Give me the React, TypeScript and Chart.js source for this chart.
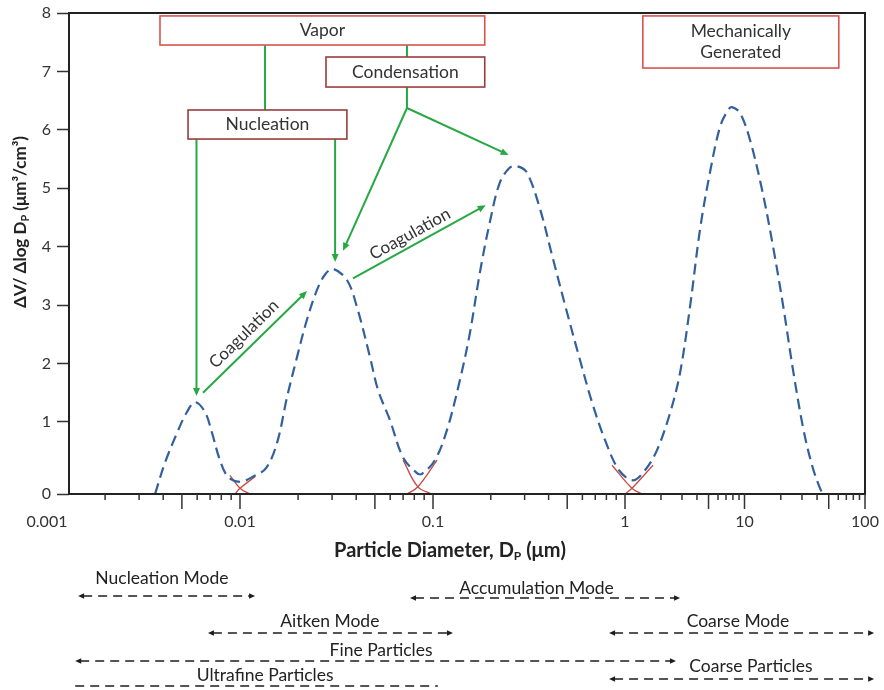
import React, { useEffect, useRef } from 'react';
import { Chart, registerables, LogarithmicScale, LinearScale } from 'chart.js';

// ---------------- data ----------------
const diameters = [0.00363, 0.00408, 0.00472, 0.00531, 0.00585, 0.00659, 0.00716, 0.00787, 0.00866, 0.0100, 0.01167, 0.01364, 0.01556, 0.01754, 0.01974, 0.02222, 0.02506, 0.02754, 0.03033, 0.03582, 0.04035, 0.04716, 0.05188, 0.05984, 0.06993, 0.08262, 0.0877, 0.1023, 0.1183, 0.1381, 0.1556, 0.1753, 0.1974, 0.2224, 0.2506, 0.2723, 0.3068, 0.3584, 0.4188, 0.4946, 0.5776, 0.6745, 0.7973, 0.9311, 1.166, 1.470, 1.853, 2.380, 2.887, 3.50, 4.24, 5.14, 6.24, 7.28, 7.86, 9.17, 11.1, 14.0, 17.3, 21.0, 25.5, 30.9, 36.7, 42.8, 45.4];
const volumes = [0, 0.43, 0.85, 1.17, 1.34, 1.17, 0.85, 0.47, 0.24, 0.17, 0.24, 0.36, 0.71, 1.43, 2.11, 2.75, 3.26, 3.52, 3.62, 3.43, 2.97, 2.11, 1.55, 1.03, 0.51, 0.29, 0.28, 0.47, 0.89, 1.72, 2.52, 3.55, 4.41, 5.09, 5.35, 5.38, 5.28, 4.68, 3.83, 2.92, 2.11, 1.33, 0.71, 0.33, 0.19, 0.33, 0.61, 1.15, 1.84, 2.97, 4.29, 5.27, 6.05, 6.34, 6.39, 6.29, 5.83, 4.97, 3.99, 2.97, 1.84, 0.89, 0.375, 0.06, 0];

// red overlapping mode tails at the three minima
const tailDiameters = [
  [0.00887, 0.0100, 0.01127],
  [0.00942, 0.0100, 0.01197],
  [0.0700, 0.0835, 0.0989],
  [0.0733, 0.0835, 0.1050],
  [0.856, 1.144, 1.388],
  [1.0, 1.144, 1.715],
];
const tailVolumes = [
  [0.26, 0.08, 0],
  [0, 0.08, 0.24],
  [0.47, 0.10, 0],
  [0, 0.10, 0.47],
  [0.40, 0.08, 0],
  [0, 0.08, 0.40],
];

const xTickValues = [0.001, 0.01, 0.1, 1, 10, 100];
const xTickLabels = ['0.001', '0.01', '0.1', '1', '10', '100'];
const yTickValues = [0, 1, 2, 3, 4, 5, 6, 7, 8];

// annotation boxes (diameter range, value range)
const boxTexts = [['Vapor'], ['Condensation'], ['Nucleation'], ['Mechanically', 'Generated']];
const boxD1 = [0.00385, 0.0279, 0.00538, 1.41];
const boxD2 = [0.186, 0.186, 0.0358, 60.6];
const boxVTop = [7.95, 7.247, 6.34, 7.95];
const boxVBottom = [7.452, 6.733, 5.843, 7.058];

// green connectors [d, v] from -> to, arrowhead flag
const linkFrom = [[0.01348, 7.452], [0.0733, 7.452], [0.0733, 6.733], [0.0733, 6.374], [0.0733, 6.374], [0.00595, 5.843], [0.0311, 5.843], [0.00643, 1.50], [0.0385, 3.46]];
const linkTo = [[0.01348, 6.34], [0.0733, 7.247], [0.0733, 6.374], [0.0342, 3.93], [0.2476, 5.57], [0.00595, 1.445], [0.0311, 3.74], [0.02224, 3.24], [0.1882, 4.71]];
const linkArrow = [false, false, false, true, true, true, true, true, true];

const coagLabels = ['Coagulation', 'Coagulation'];
const coagAt = [[0.01049, 2.506], [0.0760, 4.218]];
const coagLink = [7, 8];

// size-range legend below the axis
const rangeLabels = ['Nucleation Mode', 'Accumulation Mode', 'Aitken Mode', 'Coarse Mode', 'Fine Particles', 'Coarse Particles', 'Ultrafine Particles'];
const rangeStart = [0.00145, 0.0760, 0.00682, 0.826, 0.0014, 0.826, 0.0014];
const rangeEnd = [0.01197, 2.89, 0.127, 119, 2.67, 119, 0.106];
const rangeLabelAt = [0.00394, 0.346, 0.0292, 8.82, 0.0538, 11.3, 0.0135];
const rangeArrows = [true, true, true, true, true, true, false];

// ---------------- layout / style ----------------
const RANGE_LINE_Y = [596, 598, 633, 633, 661, 679, 686];
const RANGE_TEXT_Y = [578, 588, 621, 621, 650, 666, 675];
const FONT = 'Lato, "Open Sans", sans-serif';
const BLUE = '#31609c';
const RED = '#c84a45';
const GREEN = '#27a844';
const BOX_LIGHT = '#d9534f';
const BOX_DARK = '#9c3b3b';

// axis warping (the reference axes are not evenly spaced)
const X_BREAK_LOG = [-3, -2, -1, 0, 1, 2];
const X_BREAK_FRAC = [-0.02764, 0.21482, 0.45729, 0.69849, 0.84862, 1.0];
const Y_BREAK_VAL = [0, 1, 8];
const Y_BREAK_FRAC = [0, 0.14969, 1];

function piecewise(t: number, xs: number[], ys: number[]) {
  const n = xs.length;
  let i = 0;
  if (t <= xs[0]) i = 0;
  else if (t >= xs[n - 1]) i = n - 2;
  else while (t > xs[i + 1]) i++;
  return ys[i] + ((t - xs[i]) * (ys[i + 1] - ys[i])) / (xs[i + 1] - xs[i]);
}

class WarpedLogScale extends LogarithmicScale {
  static id = 'warpedLog';
  getPixelForValue(value: any) {
    let v = value;
    if (v === undefined || v === null || !(v > 0)) v = (this as any).min;
    return (this as any).getPixelForDecimal(piecewise(Math.log10(v), X_BREAK_LOG, X_BREAK_FRAC));
  }
  getValueForPixel(pixel: number) {
    const dec = (this as any).getDecimalForPixel(pixel);
    return Math.pow(10, piecewise(dec, X_BREAK_FRAC, X_BREAK_LOG));
  }
}

class WarpedLinearScale extends LinearScale {
  static id = 'warpedLinear';
  getPixelForValue(value: any) {
    return (this as any).getPixelForDecimal(piecewise(value, Y_BREAK_VAL, Y_BREAK_FRAC));
  }
  getValueForPixel(pixel: number) {
    const dec = (this as any).getDecimalForPixel(pixel);
    return piecewise(dec, Y_BREAK_FRAC, Y_BREAK_VAL);
  }
}

Chart.register(...registerables, WarpedLogScale as any, WarpedLinearScale as any);

type Part = { t: string; sub?: boolean };

function drawRich(ctx: CanvasRenderingContext2D, parts: Part[], x: number, y: number, size: number, weight: string) {
  const subSize = Math.round(size * 0.62);
  let total = 0;
  const widths = parts.map((p) => {
    ctx.font = `${weight} ${p.sub ? subSize : size}px ${FONT}`;
    const w = ctx.measureText(p.t).width;
    total += w;
    return w;
  });
  let cx = x - total / 2;
  ctx.textAlign = 'left';
  ctx.textBaseline = 'middle';
  parts.forEach((p, i) => {
    ctx.font = `${weight} ${p.sub ? subSize : size}px ${FONT}`;
    ctx.fillText(p.t, cx, p.sub ? y + size * 0.28 : y);
    cx += widths[i];
  });
}

function arrowHead(ctx: CanvasRenderingContext2D, x1: number, y1: number, x2: number, y2: number, len: number, half: number) {
  const ang = Math.atan2(y2 - y1, x2 - x1);
  ctx.beginPath();
  ctx.moveTo(x2, y2);
  ctx.lineTo(x2 - len * Math.cos(ang) + half * Math.sin(ang), y2 - len * Math.sin(ang) - half * Math.cos(ang));
  ctx.lineTo(x2 - len * Math.cos(ang) - half * Math.sin(ang), y2 - len * Math.sin(ang) + half * Math.cos(ang));
  ctx.closePath();
  ctx.fill();
}

const annotPlugin = {
  id: 'annotations',
  afterDraw(chart: any) {
    const { ctx, chartArea: a } = chart;
    const xs = chart.scales.x;
    const ys = chart.scales.y;
    const X = (d: number) => xs.getPixelForValue(d);
    const Y = (v: number) => ys.getPixelForValue(v);
    ctx.save();

    // frame
    ctx.strokeStyle = '#222';
    ctx.lineWidth = 2;
    ctx.strokeRect(a.left, a.top, a.right - a.left, a.bottom - a.top);

    // x tick marks (major + minor, outside)
    ctx.strokeStyle = '#333';
    ctx.lineWidth = 1.5;
    for (let e = -3; e <= 2; e++) {
      for (let m = 1; m <= 9; m++) {
        if (e === 2 && m > 1) break;
        const v = m * Math.pow(10, e);
        if (v < 0.00125) continue;
        const px = X(v);
        const len = m === 1 || m === 5 ? 15 : 6;
        ctx.beginPath();
        ctx.moveTo(px, a.bottom);
        ctx.lineTo(px, a.bottom + len);
        ctx.stroke();
      }
    }

    // green connectors
    ctx.strokeStyle = GREEN;
    ctx.fillStyle = GREEN;
    ctx.lineWidth = 2;
    linkFrom.forEach((f, i) => {
      const x1 = X(f[0]), y1 = Y(f[1]);
      const x2 = X(linkTo[i][0]), y2 = Y(linkTo[i][1]);
      const ang = Math.atan2(y2 - y1, x2 - x1);
      const back = linkArrow[i] ? 6 : 0;
      ctx.beginPath();
      ctx.moveTo(x1, y1);
      ctx.lineTo(x2 - back * Math.cos(ang), y2 - back * Math.sin(ang));
      ctx.stroke();
      if (linkArrow[i]) arrowHead(ctx, x1, y1, x2, y2, 8, 3.5);
    });

    // coagulation labels
    ctx.fillStyle = '#333';
    coagLabels.forEach((t, i) => {
      const li = coagLink[i];
      const ang = Math.atan2(Y(linkTo[li][1]) - Y(linkFrom[li][1]), X(linkTo[li][0]) - X(linkFrom[li][0]));
      ctx.save();
      ctx.translate(X(coagAt[i][0]), Y(coagAt[i][1]));
      ctx.rotate(ang);
      ctx.font = `17px ${FONT}`;
      ctx.textAlign = 'center';
      ctx.textBaseline = 'middle';
      ctx.fillText(t, 0, 0);
      ctx.restore();
    });

    // boxes
    boxTexts.forEach((lines, i) => {
      const x1 = X(boxD1[i]), x2 = X(boxD2[i]);
      const y1 = Y(boxVTop[i]), y2 = Y(boxVBottom[i]);
      ctx.fillStyle = '#fff';
      ctx.fillRect(x1, y1, x2 - x1, y2 - y1);
      ctx.strokeStyle = i === 1 || i === 2 ? BOX_DARK : BOX_LIGHT;
      ctx.lineWidth = 1.6;
      ctx.strokeRect(x1, y1, x2 - x1, y2 - y1);
      ctx.fillStyle = '#333';
      ctx.font = `17.5px ${FONT}`;
      ctx.textAlign = 'center';
      ctx.textBaseline = 'middle';
      const cx = (x1 + x2) / 2;
      const cy = (y1 + y2) / 2;
      const lh = 21;
      lines.forEach((ln, k) => {
        ctx.fillText(ln, cx, cy + (k - (lines.length - 1) / 2) * lh);
      });
    });

    // axis titles
    ctx.fillStyle = '#222';
    drawRich(ctx, [{ t: 'Particle Diameter, D' }, { t: 'P', sub: true }, { t: ' (μm)' }], 450, 551, 20, 'bold');
    ctx.save();
    ctx.translate(21, 222);
    ctx.rotate(-Math.PI / 2);
    drawRich(ctx, [{ t: 'ΔV/ Δlog D' }, { t: 'P', sub: true }, { t: ' (μm³/cm³)' }], 0, 0, 17, 'bold');
    ctx.restore();

    // size-range legend
    ctx.strokeStyle = '#1e1e1e';
    ctx.fillStyle = '#1e1e1e';
    ctx.lineWidth = 1.6;
    rangeLabels.forEach((t, i) => {
      const x1 = X(rangeStart[i]);
      const x2 = X(rangeEnd[i]);
      const y = RANGE_LINE_Y[i];
      ctx.setLineDash([9, 6]);
      ctx.beginPath();
      ctx.moveTo(x1 + (rangeArrows[i] ? 5 : 0), y);
      ctx.lineTo(x2 - (rangeArrows[i] ? 5 : 0), y);
      ctx.stroke();
      ctx.setLineDash([]);
      if (rangeArrows[i]) {
        arrowHead(ctx, x2, y, x1, y, 6, 2.8);
        arrowHead(ctx, x1, y, x2, y, 6, 2.8);
      }
      ctx.font = `17.5px ${FONT}`;
      ctx.textAlign = 'center';
      ctx.textBaseline = 'middle';
      ctx.fillStyle = '#222';
      ctx.fillText(t, X(rangeLabelAt[i]), RANGE_TEXT_Y[i]);
      ctx.fillStyle = '#1e1e1e';
    });

    ctx.restore();
  },
};

export default function App() {
  const ref = useRef<HTMLCanvasElement>(null);
  useEffect(() => {
    const canvas = ref.current as HTMLCanvasElement;
    Chart.defaults.font.family = FONT;
    const datasets: any[] = [
      {
        data: diameters.map((d, i) => ({ x: d, y: volumes[i] })),
        borderColor: BLUE,
        borderWidth: 2.2,
        borderDash: [11, 6],
        pointRadius: 0,
        tension: 0.35,
        fill: false,
      },
      ...tailDiameters.map((ds, k) => ({
        data: ds.map((d, i) => ({ x: d, y: tailVolumes[k][i] })),
        borderColor: RED,
        borderWidth: 1.3,
        pointRadius: 0,
        tension: 0.4,
        fill: false,
      })),
    ];
    const chart = new Chart(canvas, {
      type: 'line',
      data: { datasets },
      options: {
        animation: false,
        responsive: false,
        devicePixelRatio: 1,
        events: [],
        layout: { padding: { top: 13, right: 19, left: 0, bottom: 0 } },
        plugins: { legend: { display: false }, tooltip: { enabled: false } },
        scales: {
          x: {
            type: 'warpedLog' as any,
            min: 0.0013,
            max: 100,
            afterBuildTicks: (s: any) => {
              s.ticks = xTickValues.map((v) => ({ value: v }));
            },
            afterFit: (s: any) => {
              s.height = 196;
              s.paddingLeft = 0;
              s.paddingRight = 0;
            },
            grid: { display: true, drawOnChartArea: false, drawTicks: true, tickLength: 13, tickColor: 'rgba(0,0,0,0)' },
            border: { display: false },
            ticks: {
              autoSkip: false,
              maxRotation: 0,
              minRotation: 0,
              padding: 5,
              color: '#333',
              font: { size: 16, family: FONT },
              callback: (_v: any, i: number) => xTickLabels[i],
            },
          } as any,
          y: {
            type: 'warpedLinear' as any,
            min: 0,
            max: 8,
            afterBuildTicks: (s: any) => {
              s.ticks = yTickValues.map((v) => ({ value: v }));
            },
            afterFit: (s: any) => {
              s.width = 69;
              s.paddingTop = 0;
              s.paddingBottom = 0;
            },
            grid: { display: true, drawOnChartArea: false, drawTicks: true, tickLength: 12, tickColor: '#333', tickWidth: 1.5 },
            border: { display: false },
            ticks: { padding: 6, color: '#333', font: { size: 16, family: FONT }, callback: (v: any) => String(v) },
          } as any,
        },
      },
      plugins: [annotPlugin],
    });
    return () => chart.destroy();
  }, []);
  return (
    <div style={{ position: 'absolute', left: 0, top: 0, width: 884, height: 690, background: '#fff' }}>
      <canvas ref={ref} width={884} height={690} style={{ display: 'block', width: 884, height: 690 }} />
    </div>
  );
}
